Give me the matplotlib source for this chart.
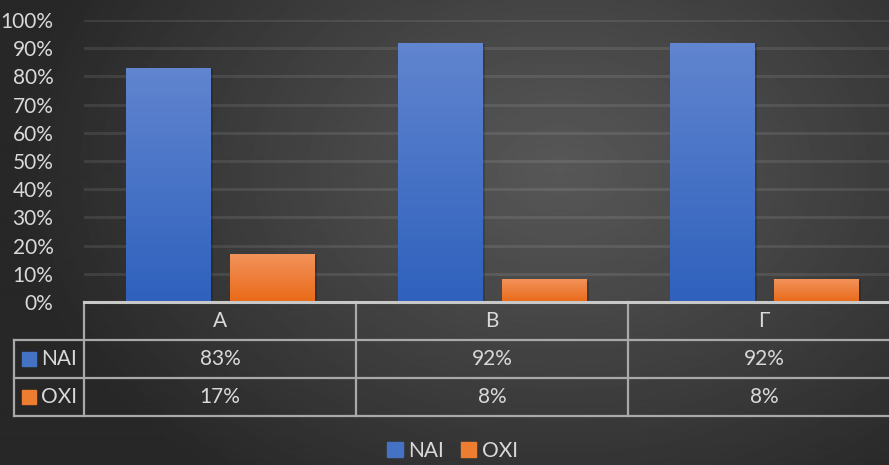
"""Greek yes/no survey chart — bars + data table, dark Excel-like theme."""
import numpy as np
import matplotlib
matplotlib.use("Agg")
import matplotlib.pyplot as plt
import matplotlib.patheffects as pe
from matplotlib.patches import Rectangle
from matplotlib.colors import LinearSegmentedColormap

plt.rcParams["font.family"] = ["Lato", "Noto Sans", "DejaVu Sans"]

categories = ["Α", "Β", "Γ"]
series_names = ["ΝΑΙ", "ΟΧΙ"]
nai_values = [83, 92, 92]
oxi_values = [17, 8, 8]
y_ticks = [0, 10, 20, 30, 40, 50, 60, 70, 80, 90, 100]

TXT = "#d9d9d9"
W, H = 889, 465
CW = 272  # category width in px (plot runs past the right edge)
# (top, bottom) colours of the bar gradients
GRAD = {"ΝΑΙ": ("#6185cf", "#2f61bd"), "ΟΧΙ": ("#f2925a", "#e96a18")}
BASE = {"ΝΑΙ": "#4472c4", "ΟΧΙ": "#ed7d31"}

fig = plt.figure(figsize=(W / 100, H / 100), dpi=100)

# radial background
bg = fig.add_axes([0, 0, 1, 1], zorder=-10)
yy, xx = np.mgrid[0:H, 0:W]
d = np.sqrt(((xx - 560) / (0.62 * W)) ** 2 + ((yy - 170) / (0.85 * H)) ** 2)
shade = 0x57 - (0x57 - 0x27) * np.clip(d, 0, 1) ** 1.1
bg.imshow(shade, cmap="gray", vmin=0, vmax=255, aspect="auto", interpolation="bilinear")
bg.axis("off")


def px(x0, y0, x1, y1):
    # pixel box (top-left origin) -> figure fraction rect
    return [x0 / W, (H - y1) / H, (x1 - x0) / W, (y1 - y0) / H]


ax = fig.add_axes(px(84, 20, 84 + 3 * CW, 302))
ax.patch.set_alpha(0)
x = np.arange(len(categories))
bw, off = 85 / CW, 52 / CW

for vals, name, sign in ((nai_values, "ΝΑΙ", -1), (oxi_values, "ΟΧΙ", 1)):
    bars = ax.bar(x + sign * off, [v / 100 for v in vals], bw, color=BASE[name],
                  label=name, zorder=3)
    cmap = LinearSegmentedColormap.from_list(name, [GRAD[name][1], GRAD[name][0]])
    for b in bars:
        b.set_path_effects([pe.SimplePatchShadow(offset=(2, -1), shadow_rgbFace="black", alpha=0.18),
                            pe.Normal()])
        x0, y0, bw_, bh = b.get_x(), b.get_y(), b.get_width(), b.get_height()
        im = ax.imshow(np.linspace(0, 1, 64).reshape(-1, 1), cmap=cmap, origin="lower",
                       extent=(x0, x0 + bw_, y0, y0 + bh), aspect="auto", zorder=4)
        im.set_clip_path(b)

ax.set_xlim(-0.5, len(categories) - 0.5)
ax.set_ylim(0, 1)
ax.set_yticks([t / 100 for t in y_ticks])
ax.set_yticklabels([f"{t}%" for t in y_ticks], color=TXT, fontsize=15)
ax.tick_params(axis="y", length=0, pad=22)
ax.set_xticks([])
ax.grid(axis="y", color="white", alpha=0.09, lw=2.2, zorder=0)
for s in ax.spines.values():
    s.set_visible(False)

# data table
tab = fig.add_axes(px(84, 302, 84 + 3 * CW, 416), sharex=ax)
tab.patch.set_alpha(0)
tab.set_ylim(3, 0)
tab.axis("off")
lbl_w = 70 / CW
left = -0.5 - lbl_w
right = len(categories) - 0.5
lc = "#a9a9a9"
tab.plot([-0.5, right], [0, 0], color="#c8c8c8", lw=2.2, clip_on=False, zorder=5)
for r in (1, 2, 3):
    tab.plot([left, right], [r, r], color=lc, lw=1.6, clip_on=False)
tab.plot([left, left], [1, 3], color=lc, lw=1.6, clip_on=False)
for c in range(len(categories)):
    tab.plot([c - 0.5, c - 0.5], [0, 3], color=lc, lw=1.6, clip_on=False)

for i, cat in enumerate(categories):
    tab.text(i, 0.5, cat, ha="center", va="center", color=TXT, fontsize=15)
for r, (name, vals) in enumerate(((series_names[0], nai_values), (series_names[1], oxi_values)), start=1):
    for i, v in enumerate(vals):
        tab.text(i, r + 0.5, f"{v}%", ha="center", va="center", color=TXT, fontsize=15)
    tab.add_patch(Rectangle((left + 8 / CW, r + 0.31), 14 / CW, 0.38,
                            color=BASE[name], clip_on=False))
    tab.text(left + 27 / CW, r + 0.5, name, ha="left", va="center",
             color=TXT, fontsize=15)

leg = fig.legend(handles=[Rectangle((0, 0), 1, 1, color=BASE[n]) for n in series_names],
                 labels=series_names, loc="center", bbox_to_anchor=(0.509, 14 / H),
                 ncol=2, frameon=False, fontsize=15, handlelength=0.75, handleheight=0.75,
                 handletextpad=0.25, columnspacing=0.8)
for t in leg.get_texts():
    t.set_color(TXT)

fig.savefig("out.png", dpi=100)
